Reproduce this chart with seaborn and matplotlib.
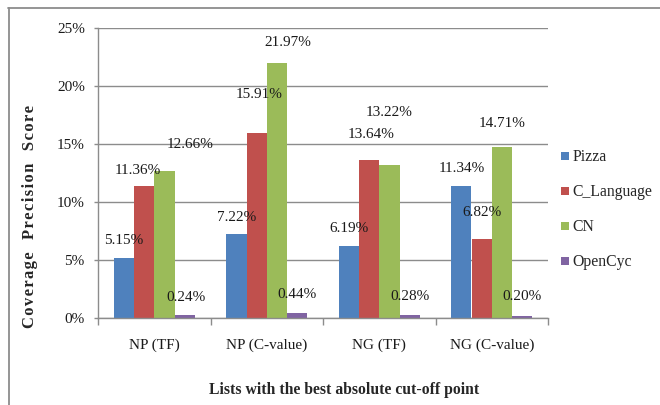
import matplotlib
matplotlib.use("Agg")
import matplotlib.pyplot as plt
from matplotlib.lines import Line2D
from matplotlib.ticker import FuncFormatter
import seaborn as sns
import pandas as pd

# Coverage precision scores (%) per list type and ontology
categories = ["NP (TF)", "NP (C-value)", "NG (TF)", "NG (C-value)"]
pizza = [5.15, 7.22, 6.19, 11.34]
c_language = [11.36, 15.91, 13.64, 6.82]
cn = [12.66, 21.97, 13.22, 14.71]
opencyc = [0.24, 0.44, 0.28, 0.20]
series_names = ["Pizza", "C_Language", "CN", "OpenCyc"]
y_ticks = [0, 5, 10, 15, 20, 25]

colors = ["#4F81BD", "#C0504D", "#9BBB59", "#8064A2"]

# Label nudges (pixels right, pixels above bar top) for each series/category
label_dx = [[0, 0, 0, 0], [-6, 2, 2, 0], [26, 11, 0, 0], [1, 0, 0, 0]]
label_dy = [[18, 17, 18, 18], [16, 39, 25, 26], [27, 21, 52, 24], [18, 18, 18, 19]]

sns.set_style("white")
plt.rcParams["font.family"] = ["Liberation Serif", "DejaVu Serif"]
plt.rcParams["font.size"] = 11

rows = []
for name, vals in zip(series_names, [pizza, c_language, cn, opencyc]):
    for cat, v in zip(categories, vals):
        rows.append({"List": cat, "Ontology": name, "Score": v})
df = pd.DataFrame(rows)

fig = plt.figure(figsize=(6.6, 4.05), dpi=100)
ax = fig.add_axes([98 / 660, 1 - 318 / 405, 450 / 660, 290 / 405])

sns.barplot(data=df, x="List", y="Score", hue="Ontology", order=categories,
            hue_order=series_names, palette=colors, width=0.72, saturation=1,
            linewidth=0, ax=ax, legend=False, errorbar=None)

ax.set_ylim(0, 25)
ax.set_xlim(-0.5, len(categories) - 0.5)
ax.set_yticks(y_ticks)
ax.yaxis.set_major_formatter(FuncFormatter(lambda v, p: f"{v:.0f}%"))
ax.grid(axis="y", color="#8c8c8c", linewidth=1.0)
ax.set_axisbelow(True)

for side in ["top", "right"]:
    ax.spines[side].set_visible(False)
for side in ["left", "bottom"]:
    ax.spines[side].set_color("#8c8c8c")
    ax.spines[side].set_linewidth(1.0)

ax.tick_params(axis="y", length=3, width=1, color="#8c8c8c", pad=6.5,
               labelsize=11, labelcolor="#1a1a1a", left=True)
ax.set_xticks(range(len(categories)))
ax.set_xticklabels(categories)
ax.set_xticks([i - 0.5 for i in range(len(categories) + 1)], minor=True)
ax.tick_params(axis="x", which="major", length=0, pad=14.5, labelsize=11,
               labelcolor="#1a1a1a")
ax.tick_params(axis="x", which="minor", length=5, width=1, color="#8c8c8c",
               bottom=True)

ax.set_xlabel("")
ax.set_ylabel("")
fig.text(344 / 660, 1 - 390 / 405, "Lists with the best absolute cut-off point",
         ha="center", va="center", fontsize=11.3, fontweight="bold")
ylabel = "\u200a".join("Coverage  Precision  Score")
fig.text(30 / 660, 1 - 216 / 405, ylabel, rotation=90,
         ha="center", va="center", fontsize=12, fontweight="bold")

# Value labels above each bar
px = 72 / 100
for s_idx, container in enumerate(ax.containers):
    for c_idx, bar in enumerate(container):
        val = bar.get_height()
        ax.annotate(f"{val:.2f}%",
                    (bar.get_x() + bar.get_width() / 2, val),
                    xytext=(label_dx[s_idx][c_idx] * px, label_dy[s_idx][c_idx] * px),
                    textcoords="offset points", ha="center", va="center",
                    fontsize=11, color="#1a1a1a")

handles = [Line2D([], [], marker="s", linestyle="none", markersize=6,
                  markerfacecolor=c, markeredgewidth=0) for c in colors]
fig.legend(handles, series_names, loc="upper left",
           bbox_to_anchor=(560 / 660, 1 - 149 / 405), frameon=False,
           fontsize=11.3, handlelength=0.6, handletextpad=0.2,
           labelspacing=1.22, borderpad=0, borderaxespad=0)

# Outer chart frame (top and left edges)
fig.add_artist(Line2D([8 / 660, 1], [1 - 7.5 / 405] * 2, color="#8c8c8c",
                      linewidth=1.3, transform=fig.transFigure))
fig.add_artist(Line2D([8.5 / 660] * 2, [0, 1 - 7.5 / 405], color="#8c8c8c",
                      linewidth=1.3, transform=fig.transFigure))

fig.savefig("out.png", dpi=100)
